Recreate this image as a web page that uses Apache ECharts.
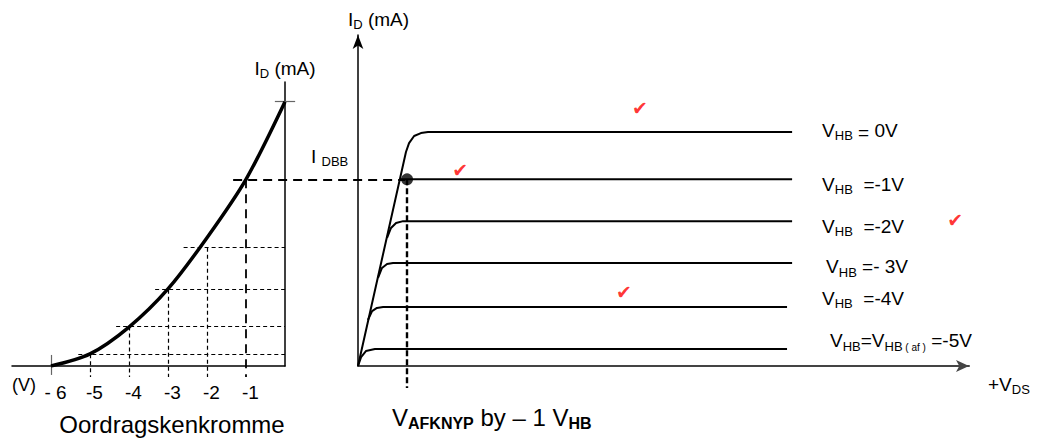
<!DOCTYPE html>
<html>
<head>
    <meta charset="UTF-8">
    <title>JFET kenkrommes</title>
    <script src="https://cdn.jsdelivr.net/npm/echarts@6/dist/echarts.min.js"></script>
    <style>
        html, body { margin: 0; padding: 0; background: #fff; }
        #chart { width: 1046px; height: 438px; }
    </style>
</head>
<body>
<div id="chart"></div>
<script>
    // oordragskenkromme (links): V_HB (V) teen I_D (mA)
    var gateV = [-6, -5, -4, -3, -2, -1, 0];
    var transferId = [0, 0.46, 1.48, 2.93, 4.88, 7.1, 10.05];
    var tickLabels = ['- 6', '-5', '-4', '-3', '-2', '-1'];
    // dashed guide levels (mA) and where each horizontal starts (V), for gateV -5..-1
    var guideLevel = [0.45, 1.5, 2.9, 4.5, 7.1];
    var guideStart = [-5.3, -4.33, -3.33, -2.6, -1.33];
    var guideBottom = -0.42;

    // dreinkrommes (regs): V_DS teen I_D, een per V_HB
    var curve0 = [[0, 0], [2.18, 8.14], [2.32, 8.48], [2.55, 8.75], [2.86, 8.86], [3.18, 8.9], [19.73, 8.9]];
    var curve1 = [[1.95, 7.1], [19.73, 7.1]];
    var curve2 = [[1.32, 4.87], [1.5, 5.25], [1.73, 5.44], [2.05, 5.51], [19.73, 5.51]];
    var curve3 = [[0.91, 3.35], [1.09, 3.73], [1.32, 3.88], [1.59, 3.92], [19.73, 3.92]];
    var curve4 = [[0.45, 1.75], [0.64, 2.09], [0.86, 2.21], [1.14, 2.24], [19.5, 2.24]];
    var curve5 = [[0, 0], [0.14, 0.34], [0.36, 0.57], [0.77, 0.65], [19.5, 0.65]];
    var curveLabels = [
        '{m|V}{s|HB}{e| =}{m| 0V}',
        '{m|V}{s|HB}{m|  =-1V}',
        '{m|V}{s|HB}{m|  =-2V}',
        '{m|V}{s|HB}{m| =- 3V}',
        '{m|V}{s|HB}{m|  =-4V}',
        '{m|V}{s|HB}{m|=V}{s|HB}{x| ( af )}{m| =-5V}'
    ];
    var qPoint = [2.23, 7.1];
    var qBottom = -0.84;
    var checks = [[12.82, 9.81], [4.64, 7.45], [27.14, 5.55], [12.09, 2.81]];

    var F = '"Liberation Sans", Arial, sans-serif';
    var rich = {
        m: {fontSize: 19, fontFamily: F, color: '#000', lineHeight: 24, verticalAlign: 'middle'},
        s: {fontSize: 13, fontFamily: F, color: '#000', lineHeight: 14, verticalAlign: 'bottom'},
        e: {fontSize: 19, fontFamily: F, color: '#000', lineHeight: 16, verticalAlign: 'bottom'},
        x: {fontSize: 10, fontFamily: F, color: '#000', lineHeight: 13, verticalAlign: 'bottom'},
        // larger set for the bottom caption
        M: {fontSize: 24, fontFamily: F, color: '#000', lineHeight: 28, verticalAlign: 'middle'},
        SB: {fontSize: 16, fontFamily: F, fontWeight: 'bold', color: '#000', lineHeight: 17, verticalAlign: 'bottom'}
    };
    // label placement for each curve: [dx from line end, dy]
    var labelPos = [[30, -2], [30, 5], [30, 5], [34, 4], [35, -9], [43, -8]];

    var chart = echarts.init(document.getElementById('chart'), null, {renderer: 'svg'});

    var thinGuides = [], heavyGuides = [];
    for (var i = 1; i < gateV.length - 1; i++) {
        var v = gateV[i], lvl = guideLevel[i - 1];
        var target = v === -1 ? heavyGuides : thinGuides;
        target.push({coords: [[v, lvl], [v, guideBottom]]});
        if (v === -1) {
            // carries over to the Q point on the right
            target.push({coords: [[guideStart[i - 1], lvl], [(405 - 285) / 39, lvl]]});
        } else {
            target.push({coords: [[guideStart[i - 1], lvl], [0, lvl]]});
        }
    }

    var curves = [curve0, curve1, curve2, curve3, curve4, curve5];
    var series = [
        {
            type: 'line', xAxisIndex: 0, yAxisIndex: 0,
            data: gateV.map(function (v, k) { return [v, transferId[k]]; }),
            smooth: 0.3, symbol: 'none',
            lineStyle: {color: '#000', width: 3.5}
        },
        {
            type: 'lines', coordinateSystem: 'cartesian2d', xAxisIndex: 0, yAxisIndex: 0,
            clip: false, data: thinGuides,
            lineStyle: {color: '#000', width: 1.2, type: [4, 3], opacity: 1}
        },
        {
            type: 'lines', coordinateSystem: 'cartesian2d', xAxisIndex: 0, yAxisIndex: 0,
            clip: false, data: heavyGuides,
            lineStyle: {color: '#000', width: 1.8, type: [9, 6], opacity: 1}
        },
        {
            type: 'lines', coordinateSystem: 'cartesian2d', xAxisIndex: 0, yAxisIndex: 0,
            clip: false,
            data: [
                {coords: [[-0.26, transferId[6]], [0.26, transferId[6]]]},
                {coords: [[gateV[0], 0.42], [gateV[0], -0.34]]}
            ],
            lineStyle: {color: '#666', width: 1.2, opacity: 1}
        }
    ];

    curves.forEach(function (c, k) {
        series.push({
            type: 'line', xAxisIndex: 1, yAxisIndex: 1,
            data: c, symbol: 'none',
            lineStyle: {color: '#000', width: 2},
            endLabel: {
                show: true,
                formatter: curveLabels[k],
                distance: 0,
                offset: labelPos[k],
                align: 'left',
                rich: rich
            }
        });
    });

    series.push({
        type: 'lines', coordinateSystem: 'cartesian2d', xAxisIndex: 1, yAxisIndex: 1,
        clip: false,
        data: [{coords: [qPoint, [qPoint[0], qBottom]]}],
        lineStyle: {color: '#000', width: 2.4, type: [6, 3], opacity: 1}
    });
    series.push({
        type: 'scatter', xAxisIndex: 1, yAxisIndex: 1,
        data: [qPoint], symbolSize: 12,
        itemStyle: {color: '#000'}
    });
    series.push({
        type: 'scatter', xAxisIndex: 1, yAxisIndex: 1,
        data: checks, symbolSize: 1,
        itemStyle: {color: 'rgba(0,0,0,0)'},
        label: {
            show: true, position: 'inside', formatter: '\u2714',
            color: '#f00', fontSize: 19, fontFamily: 'DejaVu Sans'
        }
    });

    var option = {
        backgroundColor: '#fff',
        animation: false,
        grid: [
            {left: 12, top: 82, width: 273, height: 284},
            {left: 358, top: 35, width: 611, height: 331}
        ],
        xAxis: [
            {
                gridIndex: 0, type: 'value', min: -7, max: 0, interval: 1,
                axisLine: {lineStyle: {color: '#000', width: 1.5}},
                axisTick: {show: false}, splitLine: {show: false},
                axisLabel: {
                    margin: 17, fontSize: 19, color: '#000', fontFamily: F,
                    padding: [0, 0, 0, 9],
                    formatter: function (val) {
                        var k = gateV.indexOf(val);
                        return k >= 0 && k < tickLabels.length ? tickLabels[k] : '';
                    }
                }
            },
            {
                gridIndex: 1, type: 'value', min: 0, max: 27.77,
                axisLine: {symbol: ['none', 'arrow'], symbolSize: [9, 13], lineStyle: {color: '#444', width: 2}},
                axisTick: {show: false}, axisLabel: {show: false}, splitLine: {show: false}
            }
        ],
        yAxis: [
            {
                gridIndex: 0, type: 'value', min: 0, max: 10.8, position: 'right',
                axisLine: {show: true, onZero: false, lineStyle: {color: '#000', width: 1.5}},
                axisTick: {show: false}, axisLabel: {show: false}, splitLine: {show: false}
            },
            {
                gridIndex: 1, type: 'value', min: 0, max: 12.59,
                axisLine: {show: true, onZero: false, symbol: ['none', 'arrow'], symbolSize: [8, 14],
                    lineStyle: {color: '#000', width: 1.5}},
                axisTick: {show: false}, axisLabel: {show: false}, splitLine: {show: false}
            }
        ],
        graphic: [
            {type: 'text', x: 285, y: 68, style: {text: '{m|I}{s|D}{m| (mA)}', rich: rich, align: 'center', verticalAlign: 'middle'}},
            {type: 'text', x: 348, y: 19, style: {text: '{m|I}{s|D}{m| (mA)}', rich: rich, align: 'left', verticalAlign: 'middle'}},
            {type: 'text', x: 311, y: 156, style: {text: '{m|I }{s|DBB}', rich: rich, align: 'left', verticalAlign: 'middle'}},
            {type: 'text', x: 392, y: 417, style: {text: '{M|V}{SB|AFKNYP}{M| by \u2013 1 V}{SB|HB}', rich: rich, align: 'left', verticalAlign: 'middle'}},
            {type: 'text', x: 172, y: 424, style: {text: 'Oordragskenkromme', font: '24px ' + F, fill: '#000', align: 'center', verticalAlign: 'middle'}},
            {type: 'text', x: 12, y: 385, style: {text: '(V)', font: '18px ' + F, fill: '#000', align: 'left', verticalAlign: 'middle'}},
            {type: 'text', x: 988, y: 384, style: {text: '{m|+V}{s|DS}', rich: rich, align: 'left', verticalAlign: 'middle'}}
        ],
        series: series
    };

    chart.setOption(option);
</script>
</body>
</html>
